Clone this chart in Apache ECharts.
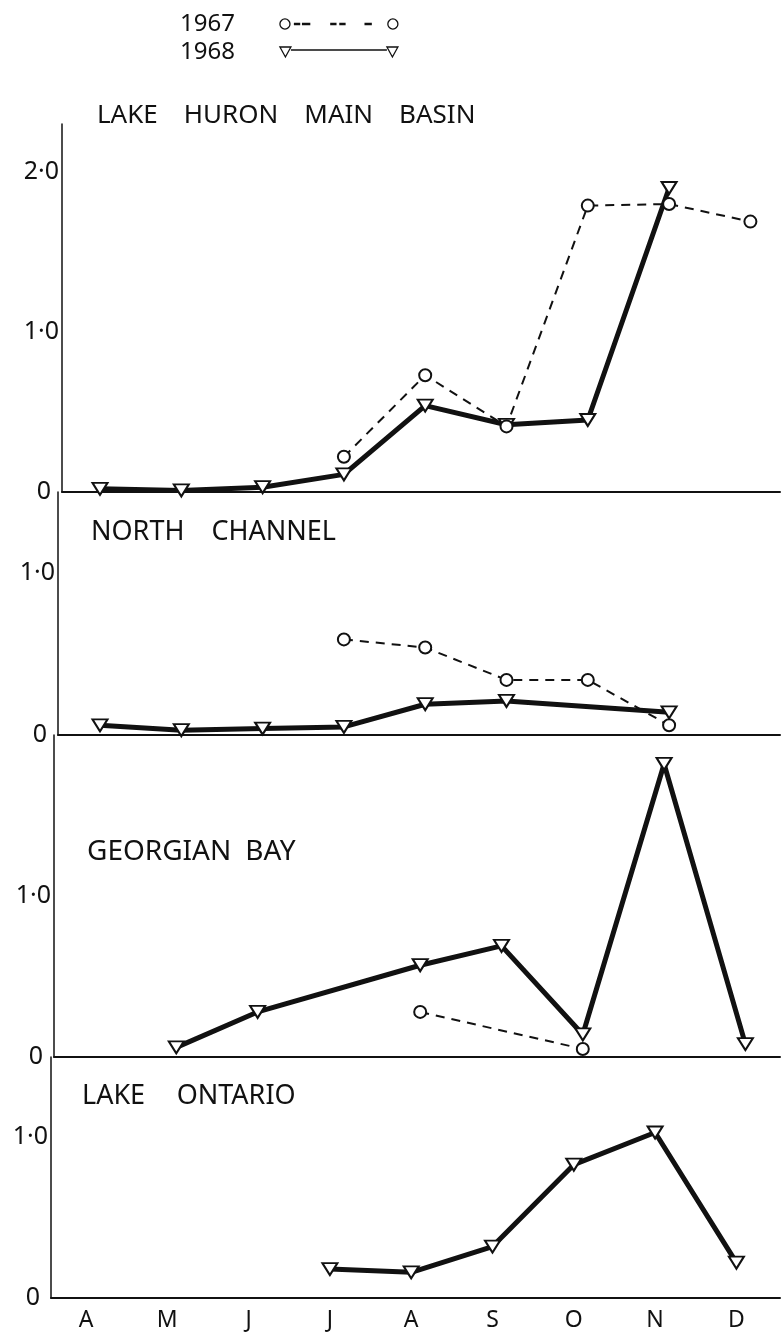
<!DOCTYPE html>
<html>
<head>
<meta charset="utf-8">
<script src="https://cdn.jsdelivr.net/npm/echarts@6/dist/echarts.min.js"></script>
<style>html,body{margin:0;padding:0;background:#fff}#c{width:782px;height:1334px}</style>
</head>
<body>
<div id="c"></div>
<script>
// ---- data ----
const months = ['A', 'M', 'J', 'J', 'A', 'S', 'O', 'N', 'D'];
const seriesNames = ['1967', '1968'];
const panelTitles = ['LAKE\u2003HURON\u2003MAIN\u2003BASIN', 'NORTH\u2003CHANNEL', 'GEORGIAN\u2002BAY', 'LAKE\u2003\u2006ONTARIO'];
const yTickValues = [[0, 1, 2], [0, 1], [0, 1], [0, 1]];

const huron1967 = [null, null, null, 0.22, 0.73, 0.41, 1.79, 1.80, 1.69];
const huron1968 = [0.02, 0.01, 0.03, 0.11, 0.54, 0.42, 0.45, 1.90, null];
const northChannel1967 = [null, null, null, 0.59, 0.54, 0.34, 0.34, 0.06, null];
const northChannel1968 = [0.06, 0.03, 0.04, 0.05, 0.19, 0.21, null, 0.14, null];
const georgianBay1967 = [null, null, null, null, 0.28, null, 0.05, null, null];
const georgianBay1968 = [null, 0.06, 0.28, null, 0.57, 0.69, 0.14, 1.82, 0.08];
const ontario1967 = [null, null, null, null, null, null, null, null, null];
const ontario1968 = [null, null, null, 0.18, 0.16, 0.32, 0.83, 1.03, 0.22];

// ---- layout / style ----
const INK = '#111';
const FONT = '"Noto Sans", "DejaVu Sans", sans-serif';
const STEP = 81.3;      // px per month
const RIGHT_EDGE = 780;
const layout = [
  { left: 62, top: 124, height: 368, max: 2.3, x0: 100, tl: 97, ty: 116, fs: 26 },
  { left: 58, top: 492, height: 243, max: 1.5, x0: 100, tl: 91, ty: 532, fs: 27 },
  { left: 54, top: 735, height: 322, max: 2.0, x0: 95, tl: 87, ty: 852, fs: 28 },
  { left: 51, top: 1057, height: 241, max: 1.5, x0: 86, tl: 82, ty: 1096, fs: 27 }
];
const panelData = [
  [huron1967, huron1968],
  [northChannel1967, northChannel1968],
  [georgianBay1967, georgianBay1968],
  [ontario1967, ontario1968]
];

const toPoints = arr => arr.map((v, i) => (v == null ? null : [i, v])).filter(Boolean);

const grids = [], xAxes = [], yAxes = [], titles = [], series = [];
layout.forEach((L, p) => {
  grids.push({ left: L.left, top: L.top, height: L.height, right: 782 - RIGHT_EDGE });
  const xmin = -(L.x0 - L.left) / STEP;
  const xmax = xmin + (RIGHT_EDGE - L.left) / STEP;
  const last = p === layout.length - 1;
  xAxes.push({
    type: 'value', gridIndex: p, min: xmin, max: xmax,
    axisLine: { show: true, onZero: false, lineStyle: { color: INK, width: 2 } },
    axisTick: { show: false }, splitLine: { show: false },
    axisLabel: {
      show: last, customValues: months.map((m, i) => i), margin: 11,
      formatter: v => months[Math.round(v)] || '',
      color: INK, fontFamily: FONT, fontSize: 23, lineHeight: 23
    }
  });
  yAxes.push({
    type: 'value', gridIndex: p, min: 0, max: L.max,
    axisLine: { show: true, onZero: false, lineStyle: { color: INK, width: 1.5 } },
    axisTick: { show: false }, splitLine: { show: false },
    axisLabel: {
      customValues: yTickValues[p], margin: 3,
      formatter: v => (v === 0 ? '{z|0}' : '{n|' + v.toFixed(1).replace('.', '\u00b7') + '}'),
      rich: {
        z: { color: INK, fontFamily: FONT, fontSize: 25, padding: [0, 8, 0, 0] },
        n: { color: INK, fontFamily: FONT, fontSize: 25 }
      }
    }
  });
  titles.push({
    text: panelTitles[p], left: L.tl, top: L.ty - L.fs / 2, padding: 0,
    textStyle: { color: INK, fontFamily: FONT, fontSize: L.fs, fontWeight: 'normal', lineHeight: L.fs }
  });
  const [d67, d68] = panelData[p];
  const p67 = toPoints(d67);
  if (p67.length) {
    series.push({
      name: seriesNames[0], type: 'line', xAxisIndex: p, yAxisIndex: p, data: p67,
      symbol: 'emptyCircle', symbolSize: 12, z: 3,
      lineStyle: { color: INK, width: 2, type: [9, 7] },
      itemStyle: { color: INK, borderWidth: 1.5 },
      silent: true
    });
  }
  series.push({
    name: seriesNames[1], type: 'line', xAxisIndex: p, yAxisIndex: p, data: toPoints(d68),
    symbol: 'emptyTriangle', symbolRotate: 180, symbolSize: [15, 12], z: 2,
    lineStyle: { color: INK, width: 5 },
    itemStyle: { color: INK, borderWidth: 1.5 },
    silent: true
  });
});

const icon67 = 'path://M0.5,5.5A5,5,0,1,0,10.5,5.5A5,5,0,1,0,0.5,5.5Z' +
  'M15,5h5v1h-5Z M23,5h7v1h-7Z M51,5h5v1h-5Z M60,5h5v1h-5Z M85,5h6v1h-6Z' +
  'M107.5,5.5A5,5,0,1,0,117.5,5.5A5,5,0,1,0,107.5,5.5Z';
const icon68 = 'path://M0,0L11,0L5.5,10Z M11,3L107,3 M107,0L118,0L112.5,10Z';

const option = {
  animation: false,
  backgroundColor: '#fff',
  title: titles,
  legend: {
    orient: 'vertical', left: 175, top: 7, align: 'right', itemGap: 4,
    itemWidth: 118, itemHeight: 11, selectedMode: false,
    textStyle: { color: INK, fontFamily: FONT, fontSize: 24, lineHeight: 24, padding: [0, 40, 0, 0] },
    data: [
      { name: seriesNames[0], icon: icon67, itemStyle: { color: 'rgba(0,0,0,0)', borderColor: INK, borderWidth: 1.3 } },
      { name: seriesNames[1], icon: icon68, itemStyle: { color: 'rgba(0,0,0,0)', borderColor: INK, borderWidth: 1.3 } }
    ]
  },
  grid: grids,
  xAxis: xAxes,
  yAxis: yAxes,
  series: series
};
echarts.init(document.getElementById('c'), null, { renderer: 'canvas' }).setOption(option);
</script>
</body>
</html>
